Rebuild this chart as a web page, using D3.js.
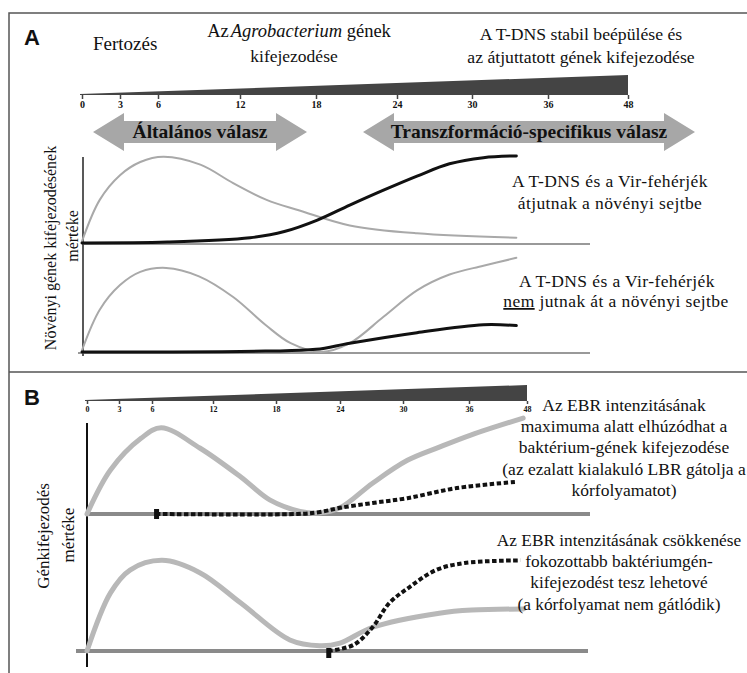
<!DOCTYPE html>
<html>
<head>
<meta charset="utf-8">
<script src="https://cdn.jsdelivr.net/npm/d3@7"></script>
<style>
  body { margin: 0; background: #fff; }
  svg { display: block; }
  text { fill: #111; }
</style>
</head>
<body>
<svg id="chart" width="747" height="673"></svg>
<script>
const SERIF = "'Liberation Serif', 'Times New Roman', Tinos, 'DejaVu Serif', serif";
const SANS = "'Liberation Sans', Arial, sans-serif";

// Time points (hours after infection) shown on both timelines
const hours = [0, 3, 6, 12, 18, 24, 30, 36, 48];

// Panel A: relative expression level, [hour, level]
const aTransferGray  = [[0,0.02],[1.4,0.49],[3,0.77],[4.6,0.92],[6.4,0.98],[9.1,0.89],[11.5,0.68],[14.1,0.49],[16.7,0.37],[20.5,0.2],[25.6,0.11],[33.5,0.06]];
const aTransferBlack = [[0,0],[6.7,0.01],[12.8,0.06],[15.5,0.13],[18.1,0.26],[20.5,0.43],[23,0.6],[25.6,0.76],[28.2,0.9],[30.9,0.97],[33.5,0.99]];
const aNoTransferGray  = [[0,0.02],[1.4,0.48],[3,0.76],[4.6,0.91],[6.6,0.955],[9,0.86],[11.5,0.625],[14,0.31],[16,0.1],[18.4,0],[20.5,0.1],[23,0.4],[25.6,0.7],[28.2,0.88],[30.9,0.98],[33.5,1.07]];
const aNoTransferBlack = [[0,0],[6.6,0],[14,0.01],[18,0.03],[20.5,0.1],[25.6,0.22],[30.9,0.31],[33.5,0.3]];

// Panel B: plant response (gray) and bacterial gene expression (dashed)
const bSlowGray  = [[0,0],[2.2,0.5],[5,0.86],[6.9,0.98],[10.7,0.75],[14.65,0.42],[17.4,0.16],[20.25,0.03],[22,0.01],[24,0.07],[27.1,0.35],[30.4,0.61],[33.3,0.76],[36.5,0.9],[47.2,1.09]];
const bSlowDash  = [[6.4,0],[20,0],[22,0.02],[24,0.07],[27.1,0.125],[30.4,0.18],[34.9,0.295],[45.5,0.364]];
const bFastGray  = [[0,0],[2.2,0.66],[4,0.92],[7,1.03],[10.7,0.89],[14.65,0.545],[19.3,0.125],[22.1,0.06],[24,0.09],[27.1,0.27],[33.3,0.43],[36.6,0.465],[47.3,0.477]];
const bFastDash  = [[22.9,0],[25.3,0.07],[27.1,0.27],[28.7,0.545],[30.6,0.727],[33,0.92],[35.6,1.0],[46.6,1.03]];

const svg = d3.select("#chart");

// Hour scales (the timeline is compressed after 36 h)
const xA = d3.scaleLinear().domain(hours).range([82,120,158,240,316,397,472,548,628]);
const xB = d3.scaleLinear().domain(hours).range([87,119,152,213,276,340,403,469,527]);
const yA1 = d3.scaleLinear().domain([0,1]).range([243,155]);
const yA2 = d3.scaleLinear().domain([0,1]).range([352,264]);
const yB1 = d3.scaleLinear().domain([0,1]).range([514,426]);
const yB2 = d3.scaleLinear().domain([0,1]).range([651,563]);

// Frames
svg.append("path")
  .attr("d", "M747,13 H9 V673 M9,372 H747")
  .attr("fill", "none").attr("stroke", "#555").attr("stroke-width", 1.5);

svg.append("text").attr("x", 24).attr("y", 45)
  .style("font-family", SANS).style("font-weight", "bold").style("font-size", "22px").text("A");
svg.append("text").attr("x", 24).attr("y", 405)
  .style("font-family", SANS).style("font-weight", "bold").style("font-size", "22px").text("B");

function lines(x, ys, arr, size, spacing) {
  arr.forEach((t, i) => {
    svg.append("text").attr("x", x).attr("y", ys[i])
      .attr("text-anchor", "middle").style("font-family", SERIF)
      .style("font-size", size + "px").style("letter-spacing", (spacing || 0) + "px").text(t);
  });
}

// Header texts, panel A
svg.append("text").attr("x", 93).attr("y", 50).style("font-family", SERIF).style("font-size", "19px").text("Fertozés");
const agro = svg.append("text").attr("x", 299).attr("y", 37).attr("text-anchor", "middle")
  .style("font-family", SERIF).style("font-size", "18.5px");
agro.append("tspan").text("Az");
agro.append("tspan").attr("dx", 2).style("font-style", "italic").text("Agrobacterium");
agro.append("tspan").text(" gének");
lines(294, [62], ["kifejezodése"], 17.5);
lines(581, [40, 63], ["A T-DNS stabil beépülése és", "az átjuttatott gének kifejezodése"], 17.7);

// Timeline wedge + hour ticks
function timeline(x, yBase, thick, fontSize, tick) {
  svg.append("path")
    .attr("d", `M${x(0) - 2},${yBase - 1} L${x(48)},${yBase - thick} L${x(48)},${yBase} L${x(0) - 2},${yBase} Z`)
    .attr("fill", "#444");
  const ax = svg.append("g").attr("transform", `translate(0,${yBase})`)
    .call(d3.axisBottom(x).tickValues(hours).tickSize(tick).tickPadding(2));
  ax.select(".domain").remove();
  ax.selectAll("line").attr("stroke", "#444").attr("stroke-width", 1.5);
  ax.selectAll("text").attr("font-family", null).style("font-family", SERIF)
    .style("font-weight", "bold").style("font-size", fontSize + "px").attr("fill", "#333");
}
timeline(xA, 95, 20, 10, 4);
timeline(xB, 401, 16, 8, 3);

// Double-headed gray arrows
function arrow(x0, x1, cy, label, size) {
  const hl = 31, hh = 19, bh = 11;
  const d = `M${x0},${cy} L${x0 + hl},${cy - hh} L${x0 + hl},${cy - bh} L${x1 - hl},${cy - bh} L${x1 - hl},${cy - hh} L${x1},${cy} L${x1 - hl},${cy + hh} L${x1 - hl},${cy + bh} L${x0 + hl},${cy + bh} L${x0 + hl},${cy + hh} Z`;
  svg.append("path").attr("d", d).attr("fill", "#a7a7a7");
  svg.append("text").attr("x", (x0 + x1) / 2).attr("y", cy + 6).attr("text-anchor", "middle")
    .style("font-family", SERIF).style("font-weight", "bold").style("font-size", size + "px").text(label);
}
arrow(93, 307, 132, "Általános válasz", 19.5);
arrow(363, 695, 132, "Transzformáció-specifikus válasz", 19.5);

// Y-axis titles
function vlabel(x, y, t, size) {
  svg.append("text").attr("transform", `translate(${x},${y}) rotate(-90)`)
    .attr("text-anchor", "middle").style("font-family", SERIF).style("font-size", size + "px").text(t);
}
vlabel(56, 248, "Növényi gének kifejezodésének", 16);
vlabel(78, 236, "mértéke", 16);
vlabel(49, 536, "Génkifejezodés", 17);
vlabel(74, 535, "mértéke", 17);

// Panel A axes
svg.append("line").attr("x1", 83).attr("x2", 83).attr("y1", 157).attr("y2", 356).attr("stroke", "#222").attr("stroke-width", 1.5);
svg.append("line").attr("x1", 83).attr("x2", 590).attr("y1", yA1(0) + 1).attr("y2", yA1(0) + 1).attr("stroke", "#777").attr("stroke-width", 1.5);
svg.append("line").attr("x1", 78).attr("x2", 590).attr("y1", yA2(0) + 1).attr("y2", yA2(0) + 1).attr("stroke", "#777").attr("stroke-width", 1.5);

function curve(data, x, y, color, width, dash) {
  const p = svg.append("path").datum(data)
    .attr("d", d3.line().x(d => x(d[0])).y(d => y(d[1])).curve(d3.curveCatmullRom.alpha(0.5)))
    .attr("fill", "none").attr("stroke", color).attr("stroke-width", width)
    .attr("stroke-linecap", dash ? "butt" : "round");
  if (dash) p.attr("stroke-dasharray", dash);
}
curve(aTransferGray, xA, yA1, "#a9a9a9", 2);
curve(aTransferBlack, xA, yA1, "#111", 3);
curve(aNoTransferGray, xA, yA2, "#a9a9a9", 2);
curve(aNoTransferBlack, xA, yA2, "#111", 3);

// Panel A side notes
lines(610, [187, 209], ["A T-DNS és a Vir-fehérjék", "átjutnak a növényi sejtbe"], 17.5, 0.4);
lines(617, [287], ["A T-DNS és a Vir-fehérjék"], 17.5, 0.4);
const nem = svg.append("text").attr("x", 616).attr("y", 307).attr("text-anchor", "middle")
  .style("font-family", SERIF).style("font-size", "17.5px").style("letter-spacing", "0.4px");
nem.append("tspan").style("text-decoration", "underline").text("nem");
nem.append("tspan").text(" jutnak át a növényi sejtbe");

// Panel B axes
svg.append("line").attr("x1", 87).attr("x2", 87).attr("y1", 423).attr("y2", 667).attr("stroke", "#111").attr("stroke-width", 2);
svg.append("line").attr("x1", 87).attr("x2", 590).attr("y1", yB1(0)).attr("y2", yB1(0)).attr("stroke", "#8a8a8a").attr("stroke-width", 4);
svg.append("line").attr("x1", 76).attr("x2", 588).attr("y1", yB2(0)).attr("y2", yB2(0)).attr("stroke", "#8a8a8a").attr("stroke-width", 4);

curve(bSlowGray, xB, yB1, "#b8b8b8", 5);
curve(bFastGray, xB, yB2, "#b8b8b8", 5);
curve(bSlowDash, xB, yB1, "#111", 4, "4.5,2.5");
curve(bFastDash, xB, yB2, "#111", 4, "4.5,2.5");

// Onset markers of bacterial gene expression
[[bSlowDash[0], yB1, -5], [bFastDash[0], yB2, -3]].forEach(([d, y, off]) => {
  svg.append("rect").attr("x", xB(d[0]) - 2).attr("y", y(d[1]) + off)
    .attr("width", 5).attr("height", 10).attr("fill", "#111");
});

// Panel B side notes
lines(624, [411, 432, 453, 475, 496],
  ["Az EBR intenzitásának", "maximuma alatt elhúzódhat a", "baktérium-gének kifejezodése",
   "(az ezalatt kialakuló LBR gátolja a", "kórfolyamatot)"], 17.5);
lines(619, [546, 567, 588, 610],
  ["Az EBR intenzitásának csökkenése", "fokozottabb baktériumgén-",
   "kifejezodést tesz lehetové", "(a kórfolyamat nem gátlódik)"], 17.3);
</script>
</body>
</html>
